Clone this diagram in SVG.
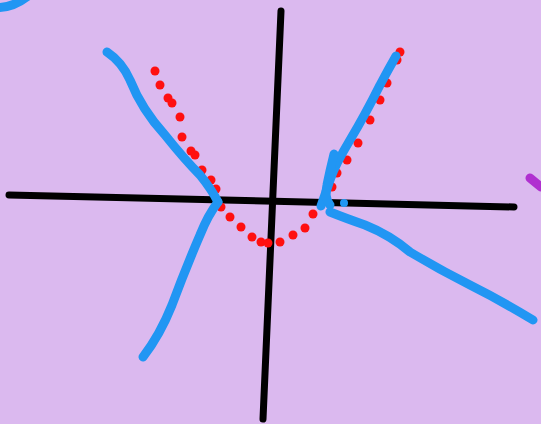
<svg xmlns="http://www.w3.org/2000/svg" width="541" height="424" viewBox="0 0 541 424">
<style>
.ax{stroke:#000;stroke-width:7;stroke-linecap:round;fill:none}
.bl{stroke:#2196f3;stroke-width:9;stroke-linecap:round;stroke-linejoin:round;fill:none}
.rd{fill:#ff1010}
</style>
<rect width="541" height="424" fill="#dbb9ef"/>
<path class="bl" d="M-20,4 Q5,14 28,-4"/>
<path d="M530,178 L541,187" stroke="#b030d0" stroke-width="9" stroke-linecap="round"/>
<g id="axes">
<path class="ax" d="M9,195 L514,207"/>
<path class="ax" d="M281,11 L263,419"/>
</g>
<g id="red">
<circle class="rd" cx="155" cy="71" r="4.5"/>
<circle class="rd" cx="160" cy="85" r="4.5"/>
<circle class="rd" cx="168" cy="98" r="4.5"/>
<circle class="rd" cx="172" cy="103" r="4.5"/>
<circle class="rd" cx="180" cy="117" r="4.5"/>
<circle class="rd" cx="182" cy="137" r="4.5"/>
<circle class="rd" cx="191" cy="151" r="4.5"/>
<circle class="rd" cx="195" cy="155" r="4.5"/>
<circle class="rd" cx="202" cy="170" r="4.5"/>
<circle class="rd" cx="211" cy="180" r="4.5"/>
<circle class="rd" cx="216" cy="189" r="4.5"/>
<circle class="rd" cx="221" cy="207" r="4.5"/>
<circle class="rd" cx="230" cy="217" r="4.5"/>
<circle class="rd" cx="241" cy="227" r="4.5"/>
<circle class="rd" cx="252" cy="237" r="4.5"/>
<circle class="rd" cx="261" cy="242" r="4.5"/>
<circle class="rd" cx="268" cy="243" r="4.5"/>
<circle class="rd" cx="280" cy="242" r="4.5"/>
<circle class="rd" cx="293" cy="235" r="4.5"/>
<circle class="rd" cx="305" cy="228" r="4.5"/>
<circle class="rd" cx="313" cy="214" r="4.5"/>
<circle class="rd" cx="323" cy="202" r="4.5"/>
<circle class="rd" cx="332" cy="187" r="4.5"/>
<circle class="rd" cx="337" cy="173" r="4.5"/>
<circle class="rd" cx="347" cy="160" r="4.5"/>
<circle class="rd" cx="358" cy="143" r="4.5"/>
<circle class="rd" cx="370" cy="120" r="4.5"/>
<circle class="rd" cx="380" cy="100" r="4.5"/>
<circle class="rd" cx="387" cy="83" r="4.5"/>
<circle class="rd" cx="397" cy="60" r="4.5"/>
<circle class="rd" cx="400" cy="52" r="4.5"/>
</g>
<g id="blue">
<path class="bl" d="M107,52 Q122,62 130,80 Q142,110 165,135 Q185,160 200,175 Q212,190 218,202"/>
<path class="bl" d="M218,202 Q208,215 200,235 Q185,270 172,305 Q160,335 143,357"/>
<path class="bl" d="M396,56 Q388,70 380,85 Q365,115 350,140 Q335,165 330,180 Q325,195 321,206"/>
<path class="bl" d="M334,154 Q330,170 327,185 Q324,198 330,205"/>
<path class="bl" d="M330,212 Q345,218 365,225 Q390,235 410,252 Q440,270 470,285 Q500,300 533,320"/>
<circle cx="344" cy="203" r="4" fill="#2196f3"/>
</g>
</svg>
